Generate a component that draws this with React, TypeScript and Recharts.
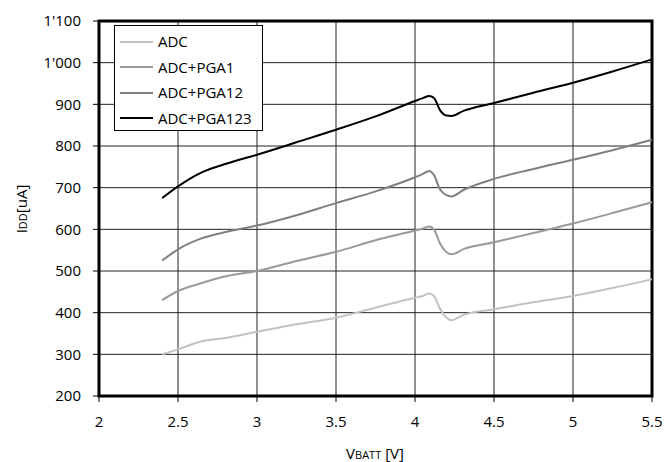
import React from 'react';
import {
  LineChart,
  Line,
  XAxis,
  YAxis,
  CartesianGrid,
  ReferenceArea,
  Label,
} from 'recharts';

// supply voltage (V)
const vbatt = [2.4, 2.5, 2.64, 2.81, 3.0, 3.25, 3.5, 3.75, 4.0, 4.05, 4.09, 4.12, 4.16, 4.2, 4.23, 4.31, 4.5, 4.75, 5.0, 5.25, 5.5];

// current consumption (uA)
const adc = [300, 312, 330, 340, 354, 372, 388, 412, 436, 440, 446, 440, 408, 388, 382, 395, 408, 425, 440, 459, 480];
const adcPga1 = [430, 452, 470, 488, 500, 524, 546, 574, 597, 602, 607, 600, 565, 545, 540, 553, 569, 591, 614, 639, 665];
const adcPga12 = [525, 552, 577, 594, 609, 634, 663, 691, 725, 733, 740, 730, 695, 682, 679, 695, 721, 745, 767, 790, 815];
const adcPga123 = [675, 703, 735, 758, 779, 809, 839, 871, 908, 915, 920, 915, 885, 873, 872, 885, 903, 928, 952, 979, 1008];

const xTicks = [2, 2.5, 3, 3.5, 4, 4.5, 5, 5.5];
const yTicks = [200, 300, 400, 500, 600, 700, 800, 900, 1000, 1100];

const series = [
  { key: 'adc', name: 'ADC', color: '#c2c2c2' },
  { key: 'pga1', name: 'ADC+PGA1', color: '#9a9a9a' },
  { key: 'pga12', name: 'ADC+PGA12', color: '#808080' },
  { key: 'pga123', name: 'ADC+PGA123', color: '#000000' },
];

const data = vbatt.map((v, i) => ({
  v,
  adc: adc[i],
  pga1: adcPga1[i],
  pga12: adcPga12[i],
  pga123: adcPga123[i],
}));

const font = '"Open Sans", sans-serif';
const tickStyle = { fontSize: 15, fill: '#000', fontFamily: font };

const fmtY = (n: number) => {
  const s = String(n);
  return s.length > 3 ? s.slice(0, s.length - 3) + "'" + s.slice(-3) : s;
};

export default function App() {
  return (
    <div style={{ position: 'relative', width: 664, height: 462, background: '#fff' }}>
      <style>{`body{margin:0}`}</style>
      <LineChart
        width={664}
        height={462}
        data={data}
        margin={{ top: 21, right: 12, bottom: 0, left: 0 }}
      >
        <CartesianGrid stroke="#222" strokeWidth={1} verticalPoints={undefined} />
        <XAxis
          type="number"
          dataKey="v"
          domain={[2, 5.5]}
          ticks={xTicks}
          height={66}
          axisLine={false}
          tickLine={{ stroke: '#000' }}
          tickSize={6}
          tickMargin={14}
          tick={tickStyle}
          interval={0}
        >
          <Label
            content={() => (
              <text x={375} y={459} textAnchor="middle" fontFamily={font} fill="#000">
                <tspan fontSize={15}>V</tspan>
                <tspan fontSize={11}>BATT</tspan>
                <tspan fontSize={15}> [V]</tspan>
              </text>
            )}
          />
        </XAxis>
        <YAxis
          domain={[200, 1100]}
          ticks={yTicks}
          width={99}
          axisLine={false}
          tickLine={{ stroke: '#000' }}
          tickSize={6}
          tickMargin={12}
          tick={tickStyle}
          tickFormatter={fmtY}
          interval={0}
        >
          <Label
            content={() => (
              <text
                x={27}
                y={209}
                textAnchor="middle"
                fontFamily={font}
                fill="#000"
                transform="rotate(-90 27 209)"
              >
                <tspan fontSize={15}>I</tspan>
                <tspan fontSize={11}>DD</tspan>
                <tspan fontSize={15}>[uA]</tspan>
              </text>
            )}
          />
        </YAxis>
        {series.map((s) => (
          <Line
            key={s.key}
            type="monotone"
            dataKey={s.key}
            name={s.name}
            stroke={s.color}
            strokeWidth={2}
            dot={false}
            isAnimationActive={false}
          />
        ))}
        <ReferenceArea
          x1={2}
          x2={5.5}
          y1={200}
          y2={1100}
          fill="none"
          stroke="#000"
          strokeWidth={3}
          ifOverflow="visible"
        />
      </LineChart>

      {/* legend box */}
      <div
        style={{
          position: 'absolute',
          left: 114,
          top: 25,
          width: 149,
          height: 106,
          boxSizing: 'border-box',
          border: '1px solid #000',
          background: '#fff',
          paddingTop: 3,
          fontFamily: font,
          fontSize: 15,
          color: '#000',
        }}
      >
        {series.map((s) => (
          <div key={s.key} style={{ display: 'flex', alignItems: 'center', height: 25.5 }}>
            <span
              style={{
                display: 'inline-block',
                marginLeft: 5,
                width: 33,
                height: 2,
                background: s.color,
              }}
            />
            <span style={{ marginLeft: 5, lineHeight: '15px' }}>{s.name}</span>
          </div>
        ))}
      </div>
    </div>
  );
}
